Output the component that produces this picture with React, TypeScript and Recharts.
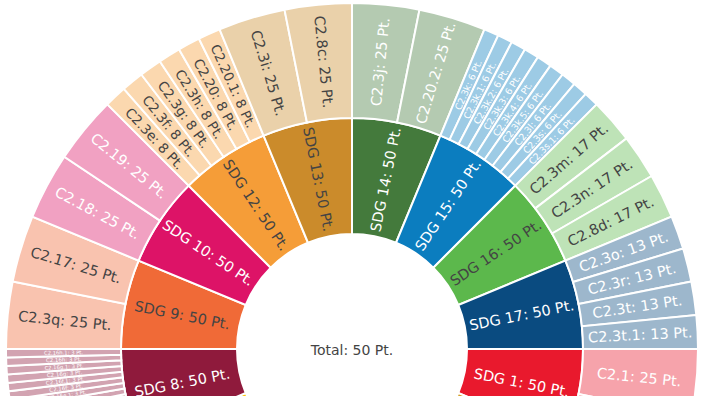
import { PieChart, Pie, Cell } from 'recharts';

// inner ring, clockwise from 12 o'clock
const sdgNames = ['SDG 14', 'SDG 15', 'SDG 16', 'SDG 17', 'SDG 1', 'SDG 2', 'SDG 3', 'SDG 4', 'SDG 5', 'SDG 6', 'SDG 7', 'SDG 8', 'SDG 9', 'SDG 10', 'SDG 12', 'SDG 13'];
const sdgPoints = [50, 50, 50, 50, 50, 50, 50, 50, 50, 50, 50, 50, 50, 50, 50, 50];
const sdgColors = ['#447a3c', '#0b7dbf', '#5cb84c', '#0a4b80', '#e9192d', '#d3a029', '#4c9f38', '#c5192d', '#ff3a21', '#26bde2', '#fcc30b', '#8f1a3c', '#f06a37', '#dd1367', '#f59d38', '#cb8b2b'];

// outer ring, same order, each child points to its SDG
const childNames = [
  'C2.3j', 'C2.20.2',
  'C2.3k', 'C2.3k.1', 'C2.3k.2', 'C2.3k.3', 'C2.3k.4', 'C2.3k.5', 'C2.3l', 'C2.3s', 'C2.3s.1',
  'C2.3m', 'C2.3n', 'C2.8d',
  'C2.3o', 'C2.3r', 'C2.3t', 'C2.3t.1',
  'C2.1', 'C2.2',
  'C2.4', 'C2.5', 'C2.6', 'C2.7', 'C2.9', 'C2.10',
  'C2.16a', 'C2.16a.1', 'C2.16b', 'C2.16b.1', 'C2.16c', 'C2.16c.1', 'C2.16d', 'C2.16d.1',
  'C2.16e', 'C2.16e.1', 'C2.16f', 'C2.16f.1', 'C2.16g', 'C2.16g.1', 'C2.16h', 'C2.16h.1',
  'C2.3q', 'C2.17',
  'C2.18', 'C2.19',
  'C2.3e', 'C2.3f', 'C2.3g', 'C2.3h', 'C2.20', 'C2.20.1',
  'C2.3i', 'C2.8c',
];
const childPoints = [
  25, 25,
  6, 6, 6, 6, 6, 6, 6, 6, 6,
  17, 17, 17,
  13, 13, 13, 13,
  25, 25,
  50, 50, 50, 50, 50, 50,
  3, 3, 3, 3, 3, 3, 3, 3, 3, 3, 3, 3, 3, 3, 3, 3,
  25, 25,
  25, 25,
  8, 8, 8, 8, 8, 8,
  25, 25,
];
const childParents = [
  'SDG 14', 'SDG 14',
  'SDG 15', 'SDG 15', 'SDG 15', 'SDG 15', 'SDG 15', 'SDG 15', 'SDG 15', 'SDG 15', 'SDG 15',
  'SDG 16', 'SDG 16', 'SDG 16',
  'SDG 17', 'SDG 17', 'SDG 17', 'SDG 17',
  'SDG 1', 'SDG 1',
  'SDG 2', 'SDG 3', 'SDG 4', 'SDG 5', 'SDG 6', 'SDG 7',
  'SDG 8', 'SDG 8', 'SDG 8', 'SDG 8', 'SDG 8', 'SDG 8', 'SDG 8', 'SDG 8',
  'SDG 8', 'SDG 8', 'SDG 8', 'SDG 8', 'SDG 8', 'SDG 8', 'SDG 8', 'SDG 8',
  'SDG 9', 'SDG 9',
  'SDG 10', 'SDG 10',
  'SDG 12', 'SDG 12', 'SDG 12', 'SDG 12', 'SDG 12', 'SDG 12',
  'SDG 13', 'SDG 13',
];

const totalText = 'Total: 50 Pt.';

const FONT = '"DejaVu Sans", Verdana, sans-serif';
const CX = 352;
const CY = 349;
const R0 = 115;
const R1 = 231;
const R2 = 346;

interface Slice {
  name: string;
  label: string;
  weight: number;
  color: string;
  textColor: string;
}

function rgb(hex: string) {
  return [1, 3, 5].map((k) => parseInt(hex.slice(k, k + 2), 16));
}

function isLight(hex: string) {
  const [r, g, b] = rgb(hex);
  return (r * 299 + g * 587 + b * 114) / 1000 >= 128;
}

// parent colour at 40% over white
function tint(hex: string, a = 0.4) {
  return '#' + rgb(hex).map((c) => Math.round(255 - (255 - c) * a).toString(16).padStart(2, '0')).join('');
}

const innerData: Slice[] = sdgNames.map((n, i) => ({
  name: n,
  label: `${n}: ${sdgPoints[i]} Pt.`,
  weight: sdgPoints[i],
  color: sdgColors[i],
  textColor: isLight(sdgColors[i]) ? '#444' : '#fff',
}));

const outerData: Slice[] = childNames.map((n, i) => {
  const p = sdgNames.indexOf(childParents[i]);
  const siblings = childPoints.filter((_, j) => childParents[j] === childParents[i]);
  const sum = siblings.reduce((s, v) => s + v, 0);
  return {
    name: n,
    label: `${n}: ${childPoints[i]} Pt.`,
    weight: (childPoints[i] / sum) * sdgPoints[p],
    color: tint(sdgColors[p]),
    textColor: isLight(sdgColors[p]) ? '#444' : '#fff',
  };
});

let ctx: CanvasRenderingContext2D | null = null;
function measure(t: string, size: number) {
  if (!ctx) ctx = document.createElement('canvas').getContext('2d');
  if (!ctx) return t.length * size * 0.6;
  ctx.font = `${size}px ${FONT}`;
  return ctx.measureText(t).width;
}

function radialLabel(data: Slice[], inner: number, outer: number) {
  const total = data.reduce((s, d) => s + d.weight, 0);
  return (props: any) => {
    const { midAngle, index } = props;
    const d = data[index];
    const half = ((d.weight / total) * 180 * Math.PI) / 180;
    const rMid = (inner + outer) / 2;
    let fs = 14.5;
    while (fs > 3) {
      const len = measure(d.label, fs);
      const ri = rMid - len / 2;
      if (len <= outer - inner - 8 && 2 * ri * Math.sin(half) >= fs * 1.2) break;
      fs -= 0.25;
    }
    const a = ((((midAngle % 360) + 540) % 360) - 180);
    const rad = (a * Math.PI) / 180;
    const x = CX + rMid * Math.cos(rad);
    const y = CY - rMid * Math.sin(rad);
    const rot = a > 90 || a <= -90 ? 180 - a : -a;
    return (
      <text
        x={x}
        y={y}
        textAnchor="middle"
        dominantBaseline="central"
        fontSize={fs}
        fontFamily={FONT}
        fill={d.textColor}
        transform={`rotate(${rot}, ${x}, ${y})`}
      >
        {d.label}
      </text>
    );
  };
}

export default function App() {
  return (
    <div style={{ position: 'absolute', left: 0, top: 0, width: 704, height: 396, background: '#fff', fontFamily: FONT }}>
      <PieChart width={704} height={396} margin={{ top: 0, right: 0, bottom: 0, left: 0 }}>
        <Pie
          data={innerData}
          dataKey="weight"
          nameKey="name"
          cx={CX}
          cy={CY}
          innerRadius={R0}
          outerRadius={R1}
          startAngle={90}
          endAngle={-270}
          stroke="#fff"
          strokeWidth={2}
          label={radialLabel(innerData, R0, R1)}
          labelLine={false}
          isAnimationActive={false}
        >
          {innerData.map((d, i) => (
            <Cell key={`sdg-${i}`} fill={d.color} />
          ))}
        </Pie>
        <Pie
          data={outerData}
          dataKey="weight"
          nameKey="name"
          cx={CX}
          cy={CY}
          innerRadius={R1}
          outerRadius={R2}
          startAngle={90}
          endAngle={-270}
          stroke="#fff"
          strokeWidth={2}
          label={radialLabel(outerData, R1, R2)}
          labelLine={false}
          isAnimationActive={false}
        >
          {outerData.map((d, i) => (
            <Cell key={`child-${i}`} fill={d.color} />
          ))}
        </Pie>
        <text x={CX} y={CY + 1} textAnchor="middle" dominantBaseline="central" fontSize={14} fontFamily={FONT} fill="#444">
          {totalText}
        </text>
      </PieChart>
    </div>
  );
}
